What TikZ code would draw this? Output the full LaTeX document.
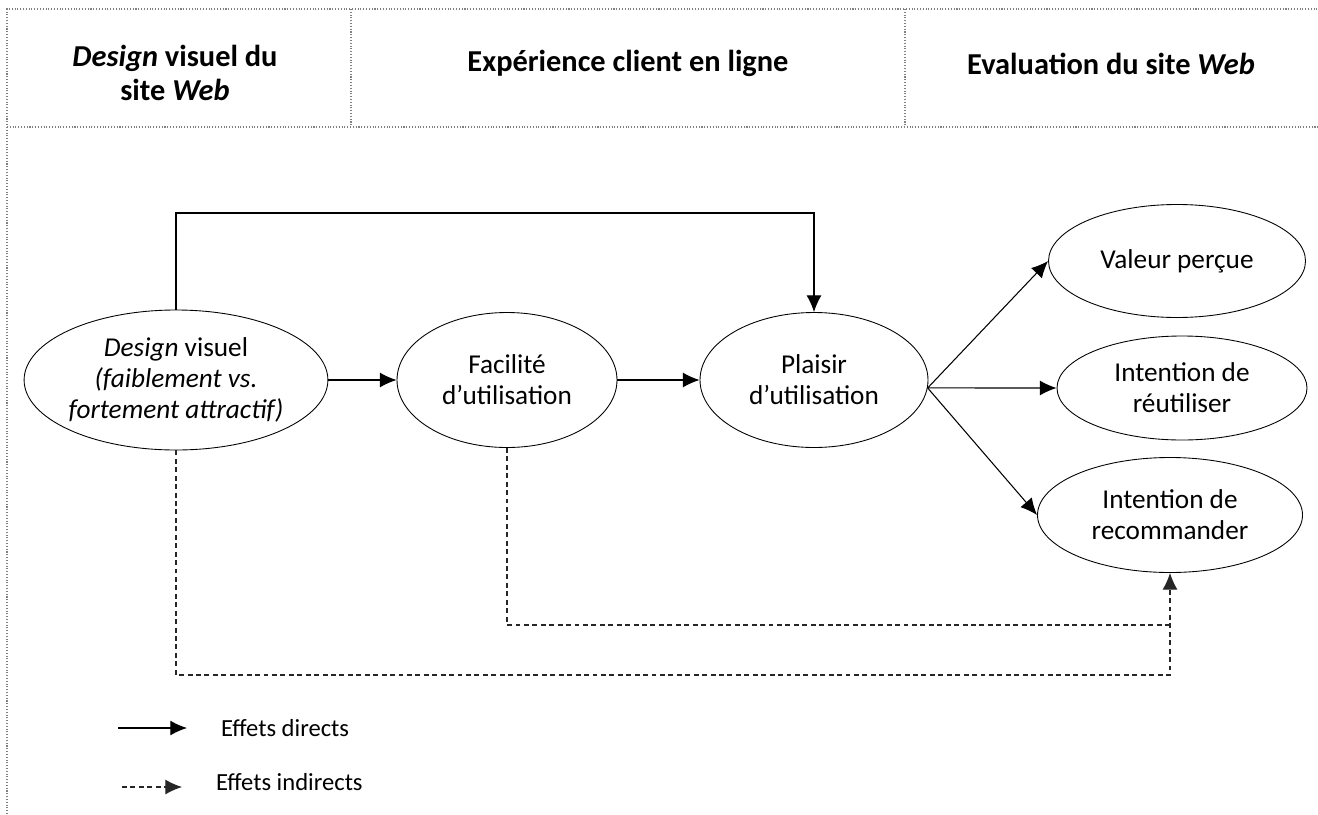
\documentclass[tikz,border=0pt]{standalone}
\usepackage{fontspec}
\setmainfont{Carlito}
\usetikzlibrary{arrows.meta,shapes.geometric}
\tikzset{
  var/.style={draw, ellipse, line width=0.5pt, align=center, font=\fontsize{15.5}{17.5}\selectfont, inner sep=0pt},
  head/.style={align=center, font=\fontsize{17.3}{19.5}\selectfont\bfseries},
  leg/.style={anchor=west, font=\fontsize{14}{17}\selectfont},
  frame/.style={draw=gray, densely dotted, line width=0.6pt},
  ind/.style={dash pattern=on 2.8pt off 2pt, draw=black!85}
}
\begin{document}
\begin{tikzpicture}
\useasboundingbox (0,0) rectangle (26.36,-16.28);

\path[frame] (0.14,-16.28) -- (0.14,-0.18) -- (26.36,-0.18);
\path[frame] (0.14,-2.54) -- (26.36,-2.54);
\path[frame] (7.02,-0.18) -- (7.02,-2.54);
\path[frame] (18.10,-0.18) -- (18.10,-2.54);

\node[head] (hdesign) at (3.50,-1.46) {\textit{Design} visuel du\\site \textit{Web}};
\node[head] (hexp) at (12.56,-1.26) {Expérience client en ligne};
\node[head] (heval) at (22.22,-1.28) {Evaluation du site \textit{Web}};

\node[var, minimum width=5.92cm, minimum height=2.8cm] (dv) at (3.52,-7.60) {\textit{Design} visuel\\\textit{(faiblement vs.}\\\textit{fortement attractif)}};
\node[var, minimum width=4.4cm, minimum height=2.7cm] (fu) at (10.14,-7.60) {Facilité\\d’utilisation};
\node[var, minimum width=4.56cm, minimum height=2.7cm] (pu) at (16.28,-7.60) {Plaisir\\d’utilisation};
\node[var, minimum width=5.14cm, minimum height=2.26cm] (vp) at (23.54,-5.22) {Valeur perçue};
\node[var, minimum width=5.0cm, minimum height=2.08cm] (ru) at (23.64,-7.76) {Intention de\\réutiliser};
\node[var, minimum width=5.3cm, minimum height=2.3cm] (rc) at (23.40,-10.30) {Intention de\\recommander};

\coordinate (hi) at (3.60,-4.26);
\coordinate (jfu) at (23.40,-12.50);
\coordinate (jdv) at (23.40,-13.50);

\path[draw,line width=0.6pt,->,>={Latex[length=9.5pt,width=8.5pt]}] (dv.north) -- (dv.north |- hi) -| (pu.north);
\path[draw,line width=0.6pt,->,>={Latex[length=9.5pt,width=8.5pt]}] (dv.east) -- (fu.west);
\path[draw,line width=0.6pt,->,>={Latex[length=9.5pt,width=8.5pt]}] (fu.east) -- (pu.west);
\path[draw,line width=0.6pt,->,>={Latex[length=9.5pt,width=8.5pt]}] (pu.-4) -- (vp.west);
\path[draw,line width=0.6pt,->,>={Latex[length=9.5pt,width=8.5pt]}] (pu.-4) -- (ru.west);
\path[draw,line width=0.6pt,->,>={Latex[length=9.5pt,width=8.5pt]}] (pu.-4) -- (rc.west);

\path[draw,ind,line width=0.6pt] (fu.south) |- (jfu);
\path[draw,ind,line width=0.6pt,->,>={Latex[length=9.5pt,width=8.5pt]}] (dv.south) |- (jdv) -- (rc.south);

\coordinate (ld1) at (2.36,-14.56);
\coordinate (ld2) at (3.74,-14.56);
\coordinate (li1) at (2.44,-15.74);
\coordinate (li2) at (3.64,-15.74);
\path[draw,line width=0.7pt,->,>={Latex[length=9.5pt,width=8.5pt]}] (ld1) -- (ld2);
\path[draw,ind,line width=0.6pt,->,>={Latex[length=9.5pt,width=8.5pt]}] (li1) -- (li2);
\node[leg] (ldirect) at (4.30,-14.56) {Effets directs};
\node[leg] (lindirect) at (4.20,-15.64) {Effets indirects};
\end{tikzpicture}
\end{document}
